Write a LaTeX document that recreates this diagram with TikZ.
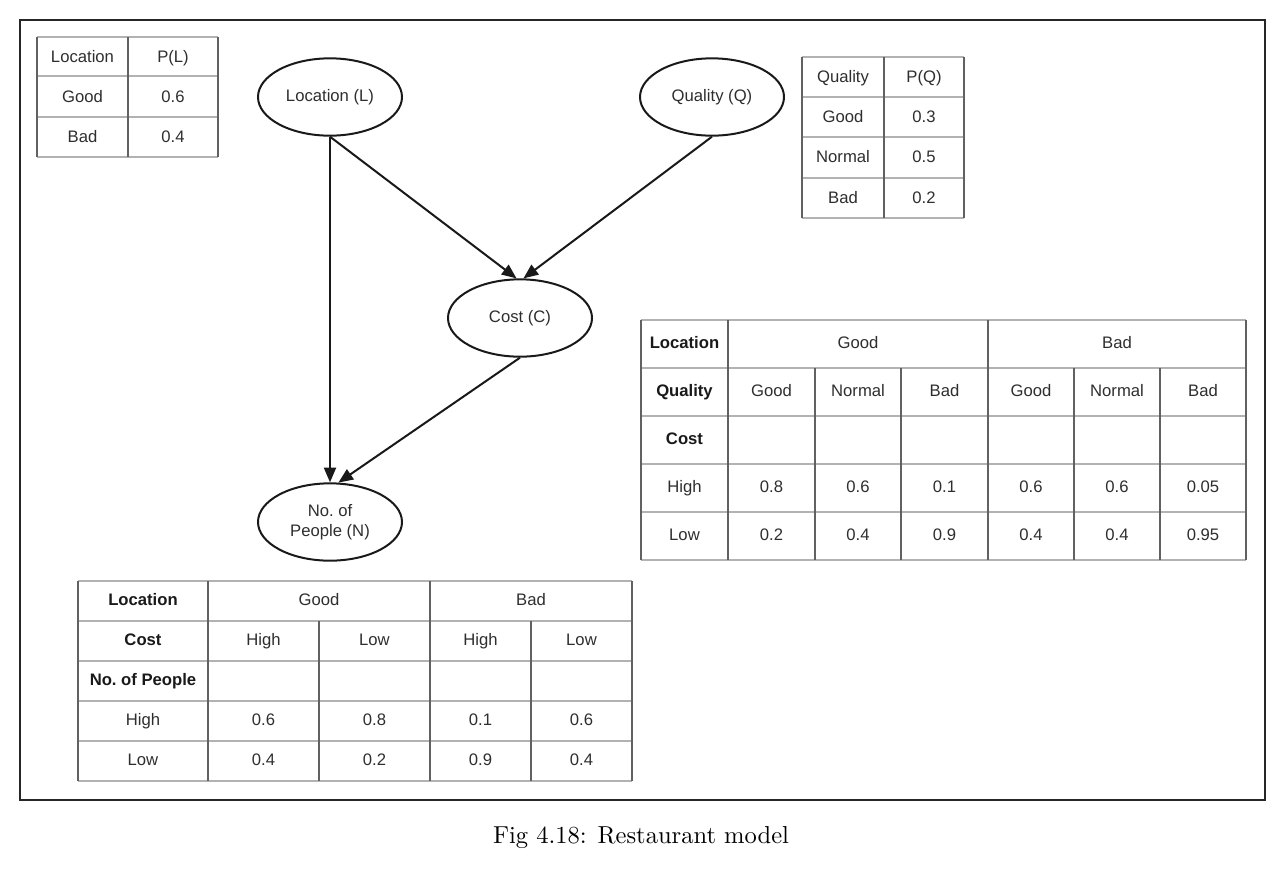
\documentclass[tikz,border=0pt]{standalone}
\usepackage{fontspec}
\newfontfamily\tabfont{Liberation Sans}
\newfontfamily\capfont{lmroman10-regular.otf}
\usetikzlibrary{arrows.meta,shapes.geometric}
\begin{document}
\begin{tikzpicture}[x=0.75pt,y=-0.75pt,
  txt/.style={font=\tabfont\fontsize{12.5}{14}\selectfont, text=black!82, inner sep=0pt, text height=9pt, text depth=2.6pt, yshift=-1.2pt},
  btxt/.style={font=\tabfont\bfseries\fontsize{12.5}{14}\selectfont, text=black!90, inner sep=0pt, text height=9pt, text depth=2.6pt, yshift=-1.2pt},
  hl/.style={draw=black!30, line width=1.1pt},
  vl/.style={draw=black!62, line width=1.1pt},
  var/.style={ellipse, draw=black!90, line width=1.5pt, minimum width=108pt, minimum height=58pt, inner sep=0pt,
    font=\tabfont\fontsize{12.5}{15}\selectfont, text=black!82, align=center},
  arr/.style={draw=black!90, line width=1.5pt, -{Triangle[length=11pt,width=9pt]}}]
\useasboundingbox (0,0) rectangle (1286,872);
\draw[line width=1.5pt, black!85] (20,20) rectangle (1265,800);

% ---- Table P(L)
\foreach \y in {37,76,117,157} \draw[hl] (37,\y) -- (218,\y);
\foreach \x in {37,128,218} \draw[vl] (\x,37) -- (\x,157);
\node[txt] (l11) at (82.5,56.5) {Location};
\node[txt] (l12) at (173,56.5) {P(L)};
\node[txt] (l21) at (82.5,96.5) {Good};
\node[txt] (l22) at (173,96.5) {0.6};
\node[txt] (l31) at (82.5,137) {Bad};
\node[txt] (l32) at (173,137) {0.4};

% ---- Table P(Q)
\foreach \y in {57,97,137,178,218} \draw[hl] (802,\y) -- (964,\y);
\foreach \x in {802,884,964} \draw[vl] (\x,57) -- (\x,218);
\node[txt] (q11) at (843,77) {Quality};
\node[txt] (q12) at (924,77) {P(Q)};
\node[txt] (q21) at (843,117) {Good};
\node[txt] (q22) at (924,117) {0.3};
\node[txt] (q31) at (843,157) {Normal};
\node[txt] (q32) at (924,157) {0.5};
\node[txt] (q41) at (843,198) {Bad};
\node[txt] (q42) at (924,198) {0.2};

% ---- Table Cost
\foreach \y in {320,368,416,464,512,560} \draw[hl] (641,\y) -- (1246,\y);
\foreach \x in {641,728,988,1246} \draw[vl] (\x,320) -- (\x,560);
\foreach \x in {815,901,1074,1160} \draw[vl] (\x,368) -- (\x,560);
\node[btxt] (c11) at (684.5,343) {Location};
\node[txt] (c12) at (858,343) {Good};
\node[txt] (c13) at (1117,343) {Bad};
\node[btxt] (c21) at (684.5,391) {Quality};
\node[btxt] (c31) at (684.5,439) {Cost};
\node[txt] (c41) at (684.5,487) {High};
\node[txt] (c51) at (684.5,535) {Low};
\foreach \x/\q/\h/\l [count=\i] in {771.5/Good/0.8/0.2, 858/Normal/0.6/0.4, 944.5/Bad/0.1/0.9,
    1031/Good/0.6/0.4, 1117/Normal/0.6/0.4, 1203/Bad/0.05/0.95} {
  \node[txt] (cq\i) at (\x,391) {\q};
  \node[txt] (ch\i) at (\x,487) {\h};
  \node[txt] (cl\i) at (\x,535) {\l};
}

% ---- Table No. of People
\foreach \y in {581,621,661,701,741,781} \draw[hl] (78,\y) -- (632,\y);
\foreach \x in {78,208,430,632} \draw[vl] (\x,581) -- (\x,781);
\foreach \x in {319,531} \draw[vl] (\x,621) -- (\x,781);
\node[btxt] (n11) at (143,600) {Location};
\node[txt] (n12) at (319,600) {Good};
\node[txt] (n13) at (531,600) {Bad};
\node[btxt] (n21) at (143,640) {Cost};
\node[btxt] (n31) at (143,680) {No.\ of People};
\node[txt] (n41) at (143,720) {High};
\node[txt] (n51) at (143,760) {Low};
\foreach \x/\c/\h/\l [count=\i] in {263.5/High/0.6/0.4, 374.5/Low/0.8/0.2, 480.5/High/0.1/0.9, 581.5/Low/0.6/0.4} {
  \node[txt] (nc\i) at (\x,640) {\c};
  \node[txt] (nh\i) at (\x,720) {\h};
  \node[txt] (nl\i) at (\x,760) {\l};
}

% ---- Network
\node[var] (L) at (330,97) {Location (L)};
\node[var] (Q) at (712,97) {Quality (Q)};
\node[var] (C) at (520,318) {Cost (C)};
\node[var] (N) at (330,522) {No.\ of\\People (N)};

\draw[arr] (L.south) -- (N.north);
\draw[arr] (L.south) -- (C.95);
\draw[arr] (Q.south) -- (C.85);
\draw[arr] (C.south) -- (N.78);

% ---- Caption
\node[font=\capfont\fontsize{18.4}{22}\selectfont, inner sep=0pt] (cap) at (641,838) {Fig 4.18: Restaurant model};
\end{tikzpicture}
\end{document}
